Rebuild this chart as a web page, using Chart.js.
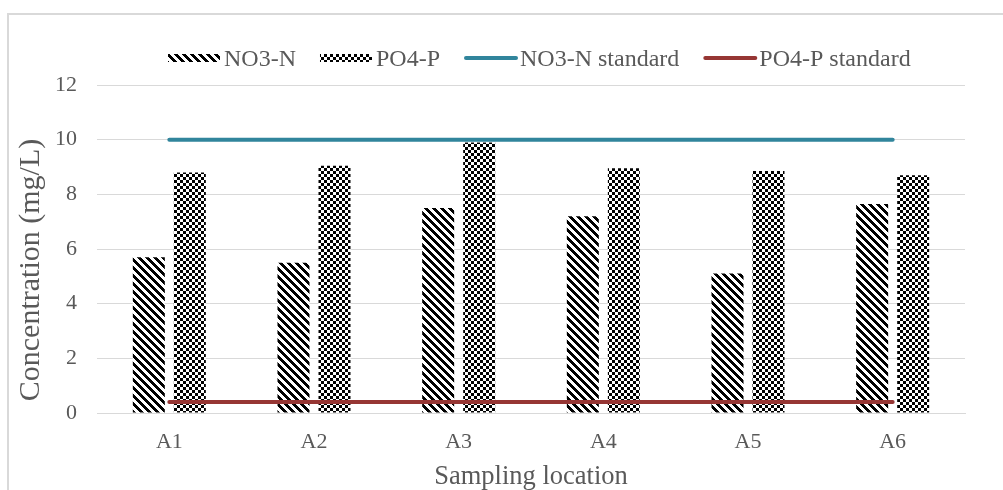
<!DOCTYPE html>
<html>
<head>
<meta charset="utf-8">
<script src="https://cdn.jsdelivr.net/npm/chart.js@4.4.1/dist/chart.umd.min.js"></script>
<style>
  html, body { margin: 0; padding: 0; background: #fff; overflow: hidden; }
  #wrap { position: relative; width: 1003px; height: 490px; }
  #frame { position: absolute; left: 7px; top: 13px; width: 1100px; height: 600px; border: 2px solid #d9d9d9; box-sizing: border-box; }
  #chart { position: absolute; left: 0; top: 0; }
</style>
</head>
<body>
<div id="wrap">
  <div id="frame"></div>
  <canvas id="chart" width="1003" height="490"></canvas>
</div>
<script>
// --- DATA ---
const locations = ['A1', 'A2', 'A3', 'A4', 'A5', 'A6'];
const no3 = [5.7, 5.5, 7.5, 7.2, 5.1, 7.65];
const po4 = [8.8, 9.05, 9.9, 8.95, 8.85, 8.7];
const no3Standard = [10, 10, 10, 10, 10, 10];
const po4Standard = [0.4, 0.4, 0.4, 0.4, 0.4, 0.4];
const yMin = 0, yMax = 12, yStep = 2;
const yTitle = 'Concentration (mg/L)';
const xTitle = 'Sampling location';

const FONT = '"Liberation Serif", "Times New Roman", serif';
const TEXT = '#595959';
const GRID = '#d9d9d9';
const BLUE = '#31859c';
const RED = '#963634';

// --- PATTERNS ---
function makePattern(kind) {
  const size = kind === 'diag' ? 8 : 6;
  const c = document.createElement('canvas');
  c.width = c.height = size;
  const g = c.getContext('2d');
  g.fillStyle = '#fff';
  g.fillRect(0, 0, size, size);
  g.fillStyle = '#000';
  for (let y = 0; y < size; y++) {
    for (let x = 0; x < size; x++) {
      let on;
      if (kind === 'diag') on = ((x - y + 16) % 8) < 4;
      else on = ((Math.floor(x / 3) + Math.floor(y / 3)) % 2) === 0;
      if (on) g.fillRect(x, y, 1, 1);
    }
  }
  return g.createPattern(c, 'repeat');
}
const ctx = document.getElementById('chart').getContext('2d');
const no3Fill = makePattern('diag');
const po4Fill = makePattern('check');

// --- LEGEND + Y TITLE (drawn on canvas so gaps match the reference) ---
const legendItems = [
  { text: 'NO3-N', kind: 'bar', fill: no3Fill },
  { text: 'PO4-P', kind: 'bar', fill: po4Fill },
  { text: 'NO3-N standard', kind: 'line', color: BLUE },
  { text: 'PO4-P standard', kind: 'line', color: RED }
];
const legendPlugin = {
  id: 'customLegend',
  afterDraw(chart) {
    const c = chart.ctx;
    c.save();
    c.font = '24px ' + FONT;
    c.textBaseline = 'middle';
    c.textAlign = 'left';
    let x = 168;
    const y = 60;
    legendItems.forEach(item => {
      if (item.kind === 'bar') {
        c.fillStyle = item.fill;
        c.fillRect(x, y - 6, 52, 8);
      } else {
        c.strokeStyle = item.color;
        c.lineWidth = 4;
        c.lineCap = 'round';
        c.beginPath();
        c.moveTo(x + 2, y - 2);
        c.lineTo(x + 52, y - 2);
        c.stroke();
      }
      x += 56;
      c.fillStyle = TEXT;
      c.fillText(item.text, x, y);
      x += c.measureText(item.text).width + 24;
    });
    c.restore();

    // y axis title
    c.save();
    c.translate(31, 270);
    c.rotate(-Math.PI / 2);
    c.font = '30px ' + FONT;
    c.fillStyle = TEXT;
    c.textAlign = 'center';
    c.textBaseline = 'middle';
    c.fillText(yTitle, 0, 0);
    c.restore();
  }
};

new Chart(ctx, {
  type: 'bar',
  data: {
    labels: locations,
    datasets: [
      { label: 'NO3-N', data: no3, backgroundColor: no3Fill, borderWidth: 0, barPercentage: 0.78, categoryPercentage: 0.567, order: 2 },
      { label: 'PO4-P', data: po4, backgroundColor: po4Fill, borderWidth: 0, barPercentage: 0.78, categoryPercentage: 0.567, order: 2 },
      { label: 'NO3-N standard', data: no3Standard, type: 'line', borderColor: BLUE, backgroundColor: BLUE, borderWidth: 4, borderCapStyle: 'round', pointRadius: 0, fill: false, order: 1 },
      { label: 'PO4-P standard', data: po4Standard, type: 'line', borderColor: RED, backgroundColor: RED, borderWidth: 4, borderCapStyle: 'round', pointRadius: 0, fill: false, order: 0 }
    ]
  },
  options: {
    responsive: false,
    animation: false,
    layout: { padding: { left: 0, right: 38, top: 85, bottom: 0 } },
    plugins: { legend: { display: false }, tooltip: { enabled: false } },
    scales: {
      x: {
        grid: { display: false, drawTicks: false },
        border: { display: true, color: GRID, width: 1 },
        ticks: { color: TEXT, font: { family: FONT, size: 22 }, padding: 16 },
        title: { display: true, text: xTitle, color: TEXT, font: { family: FONT, size: 26.5, lineHeight: 1.2 }, padding: { top: 0, bottom: -3 } },
        afterFit: s => { s.height = 77; }
      },
      y: {
        min: yMin, max: yMax,
        grid: { color: GRID, lineWidth: 1, drawTicks: false },
        border: { display: false },
        ticks: { stepSize: yStep, color: TEXT, font: { family: FONT, size: 22 }, padding: 20 },
        afterFit: s => { s.width = 97; }
      }
    }
  },
  plugins: [legendPlugin]
});
</script>
</body>
</html>
